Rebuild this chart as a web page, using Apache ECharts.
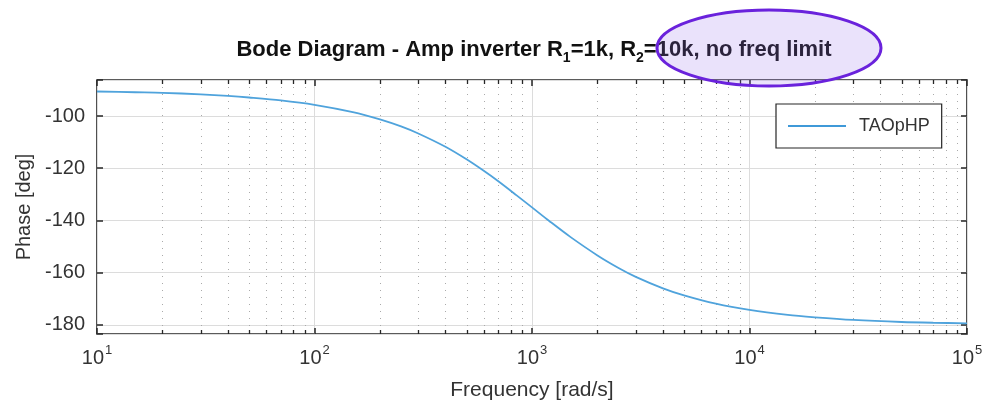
<!DOCTYPE html>
<html>
<head>
    <meta charset="utf-8">
    <script src="https://cdn.jsdelivr.net/npm/echarts@6/dist/echarts.min.js"></script>
    <style>
        body { margin: 0; background: #fff; }
    </style>
</head>
<body>
    <div id="main" style="width: 987px;height:403px;"></div>
    <script type="text/javascript">
        // frequency [rad/s] and phase [deg]
        var freqs = [10, 15, 20, 30, 40, 50, 70, 100, 150, 200, 250, 300, 400, 500, 600, 700, 850, 1000,
                     1200, 1500, 2000, 2500, 3000, 4000, 5000, 7000, 10000, 15000, 20000, 30000, 50000, 70000, 100000];
        var phase = [-90.6, -90.9, -91.1, -91.7, -92.3, -92.9, -94.0, -95.7, -98.5, -101.3, -104.0, -106.7,
                     -111.8, -116.6, -121.0, -125.0, -130.4, -135.0, -140.2, -146.3, -153.4, -158.2, -161.6,
                     -166.0, -168.7, -171.9, -174.3, -176.2, -177.1, -178.1, -178.9, -179.2, -179.4];
        var seriesName = 'TAOpHP';

        // minor grid positions 2..9 x 10^k
        var minorFreqs = [];
        for (var k = 1; k < 5; k++) {
            for (var m = 2; m < 10; m++) {
                minorFreqs.push(m * Math.pow(10, k));
            }
        }

        var points = freqs.map(function (f, i) { return [f, phase[i]]; });
        var gridColor = '#dcdcdc';
        var frameColor = '#262626';
        var labelColor = '#333';
        var font = 'Liberation Sans';

        var myChart = echarts.init(document.getElementById('main'));

        function logLabel(v) {
            var e = Math.round(Math.log10(v));
            return '{b|10}{s|' + e + '}';
        }

        var option = {
            animation: false,
            backgroundColor: '#fff',
            title: {
                text: '{t|Bode Diagram - Amp inverter R}{s|1}{t|=1k, R}{s|2}{t|=10k, no freq limit}',
                left: 529,
                top: 28,
                textAlign: 'center',
                textStyle: {
                    rich: {
                        t: { fontSize: 22, fontWeight: 'bold', color: '#111', fontFamily: font, lineHeight: 28, verticalAlign: 'bottom' },
                        s: { fontSize: 14, fontWeight: 'bold', color: '#111', fontFamily: font, lineHeight: 18, verticalAlign: 'bottom', padding: [0, 0, -4, 0] }
                    }
                }
            },
            legend: {
                data: [{ name: seriesName, icon: 'rect' }],
                left: 776,
                top: 104,
                orient: 'vertical',
                backgroundColor: '#fff',
                borderColor: frameColor,
                borderWidth: 1.2,
                padding: [13, 12, 13, 12],
                itemWidth: 58,
                itemHeight: 2,
                itemGap: 0,
                textStyle: { fontSize: 18, color: labelColor, fontFamily: font, padding: [0, 0, 0, 8] }
            },
            grid: {
                left: 97,
                right: 20,
                top: 80,
                bottom: 69,
                outerBoundsMode: 'none',
                containLabel: false,
                show: true,
                borderColor: frameColor,
                borderWidth: 1.6
            },
            xAxis: [{
                type: 'log',
                logBase: 10,
                min: 10,
                max: 100000,
                name: 'Frequency [rad/s]',
                nameLocation: 'middle',
                nameGap: 46,
                nameTextStyle: { fontSize: 21, color: labelColor, fontFamily: font },
                axisLine: { show: false },
                axisTick: { inside: true, length: 6, lineStyle: { color: frameColor, width: 1.5 } },
                splitLine: { show: true, lineStyle: { color: gridColor, width: 1 } },
                axisLabel: {
                    margin: 10,
                    formatter: logLabel,
                    rich: {
                        b: { fontSize: 20, color: labelColor, fontFamily: font, lineHeight: 24, verticalAlign: 'bottom' },
                        s: { fontSize: 13, color: labelColor, fontFamily: font, lineHeight: 24, verticalAlign: 'top', padding: [0, 0, 8, 1] }
                    }
                }
            }, {
                type: 'log',
                logBase: 10,
                min: 10,
                max: 100000,
                position: 'top',
                axisLine: { show: false },
                axisTick: { inside: true, length: 6, lineStyle: { color: frameColor, width: 1.5 } },
                axisLabel: { show: false },
                splitLine: { show: false }
            }],
            yAxis: [{
                type: 'value',
                min: -183.5,
                max: -86.2,
                splitNumber: 5,
                name: 'Phase [deg]',
                nameLocation: 'middle',
                nameGap: 62,
                nameTextStyle: { fontSize: 20, color: labelColor, fontFamily: font },
                axisLine: { show: false },
                axisTick: { inside: true, length: 6, lineStyle: { color: frameColor, width: 1.5 } },
                splitLine: { show: true, lineStyle: { color: gridColor, width: 1 } },
                axisLabel: {
                    margin: 12,
                    fontSize: 20,
                    color: labelColor,
                    fontFamily: font,
                    formatter: function (v) { return v % 20 === 0 ? String(v) : ''; }
                }
            }, {
                type: 'value',
                min: -183.5,
                max: -86.2,
                splitNumber: 5,
                position: 'right',
                axisLine: { show: false },
                axisTick: { inside: true, length: 6, lineStyle: { color: frameColor, width: 1.5 } },
                axisLabel: { show: false },
                splitLine: { show: false }
            }],
            series: [{
                type: 'custom',
                name: 'minor',
                silent: true,
                z: 1,
                xAxisIndex: 0,
                yAxisIndex: 0,
                data: minorFreqs.map(function (f) { return [f, -120]; }),
                renderItem: function (params, api) {
                    var cs = params.coordSys;
                    var x = Math.round(api.coord([api.value(0), api.value(1)])[0]) + 0.5;
                    var top = cs.y, bottom = cs.y + cs.height;
                    return {
                        type: 'group',
                        children: [{
                            type: 'line',
                            shape: { x1: x, y1: top, x2: x, y2: bottom },
                            style: { stroke: '#aaa', lineWidth: 1, lineDash: [1, 6] }
                        }, {
                            type: 'line',
                            shape: { x1: x, y1: bottom, x2: x, y2: bottom - 4 },
                            style: { stroke: frameColor, lineWidth: 1.3 }
                        }, {
                            type: 'line',
                            shape: { x1: x, y1: top, x2: x, y2: top + 4 },
                            style: { stroke: frameColor, lineWidth: 1.3 }
                        }]
                    };
                }
            }, {
                name: seriesName,
                type: 'line',
                z: 3,
                xAxisIndex: 0,
                yAxisIndex: 0,
                data: points,
                smooth: 0.3,
                showSymbol: false,
                symbol: 'none',
                color: '#3f99d8',
                lineStyle: { width: 1.8, color: '#4fa3dc' }
            }],
            graphic: [{
                type: 'ellipse',
                z: 100,
                shape: { cx: 769, cy: 48, rx: 112, ry: 38 },
                style: {
                    fill: 'rgba(150, 110, 235, 0.2)',
                    stroke: '#6a22dc',
                    lineWidth: 3
                }
            }]
        };

        myChart.setOption(option);
    </script>
</body>
</html>
